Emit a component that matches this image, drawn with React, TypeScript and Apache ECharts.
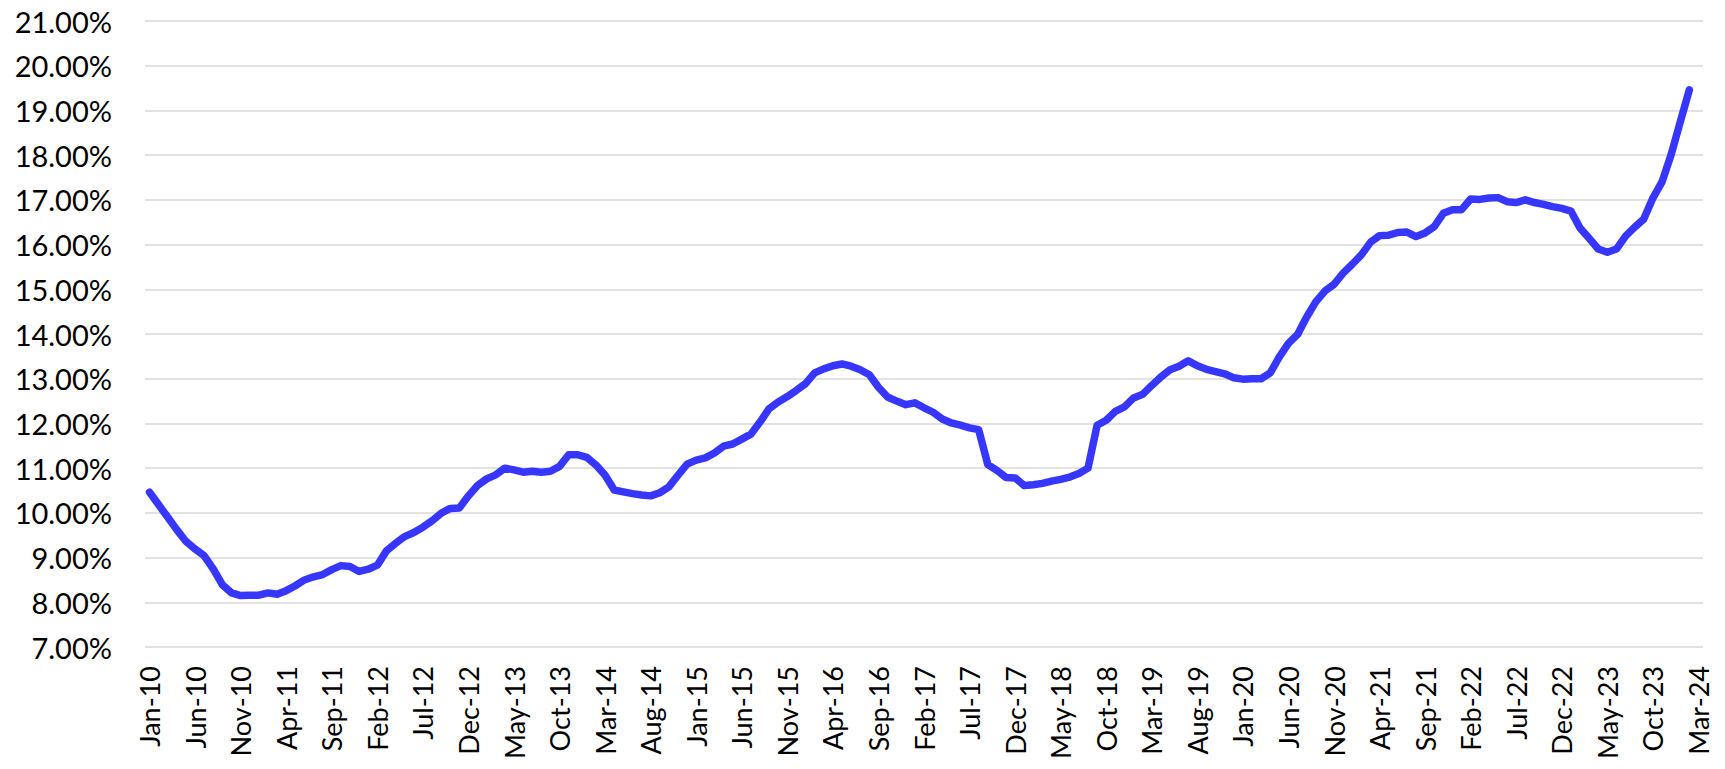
import { useEffect, useRef } from 'react'
import * as echarts from 'echarts'

const MONTHS = ['Jan', 'Feb', 'Mar', 'Apr', 'May', 'Jun', 'Jul', 'Aug', 'Sep', 'Oct', 'Nov', 'Dec']
const FIRST_YEAR = 10
const LAST_YEAR = 24
const LAST_MONTH = 2 // Mar-24 (axis ends here, data ends Feb-24)

const categories: string[] = []
for (let y = FIRST_YEAR; y <= LAST_YEAR; y++) {
  for (let m = 0; m < 12; m++) {
    if (y === LAST_YEAR && m > LAST_MONTH) break
    categories.push(`${MONTHS[m]}-${y}`)
  }
}

// monthly rate, %, Jan-10 .. Feb-24
const rates = [
  10.46, 10.18, 9.90, 9.62, 9.36, 9.19, 9.04, 8.74, 8.39, 8.21, 8.15, 8.16,
  8.16, 8.21, 8.18, 8.26, 8.37, 8.50, 8.57, 8.62, 8.73, 8.82, 8.80, 8.69,
  8.74, 8.83, 9.15, 9.32, 9.47, 9.56, 9.68, 9.82, 9.99, 10.10, 10.11, 10.38,
  10.61, 10.76, 10.85, 11.00, 10.96, 10.91, 10.93, 10.91, 10.93, 11.04, 11.30, 11.30,
  11.24, 11.07, 10.84, 10.51, 10.47, 10.43, 10.40, 10.38, 10.45, 10.58, 10.84, 11.09,
  11.18, 11.23, 11.34, 11.49, 11.54, 11.65, 11.76, 12.03, 12.33, 12.48, 12.60, 12.74,
  12.89, 13.13, 13.22, 13.29, 13.33, 13.28, 13.20, 13.09, 12.81, 12.59, 12.50, 12.42,
  12.46, 12.35, 12.25, 12.10, 12.01, 11.96, 11.90, 11.86, 11.08, 10.95, 10.79, 10.78,
  10.61, 10.63, 10.66, 10.71, 10.75, 10.80, 10.88, 11.00, 11.96, 12.07, 12.27, 12.37,
  12.57, 12.65, 12.85, 13.04, 13.20, 13.28, 13.40, 13.29, 13.21, 13.16, 13.11, 13.02,
  12.99, 13.00, 13.00, 13.13, 13.49, 13.79, 13.99, 14.38, 14.72, 14.96, 15.11, 15.36,
  15.56, 15.77, 16.05, 16.20, 16.21, 16.27, 16.28, 16.18, 16.26, 16.40, 16.70, 16.78,
  16.78, 17.02, 17.01, 17.04, 17.05, 16.96, 16.94, 17.00, 16.94, 16.90, 16.85, 16.81,
  16.75, 16.37, 16.14, 15.90, 15.83, 15.90, 16.19, 16.39, 16.57, 17.04, 17.40, 18.01,
  18.74, 19.46
]

const Y_MIN = 7
const Y_MAX = 21
const Y_STEP = 1

export default function App() {
  const chartRef = useRef<HTMLDivElement>(null)

  useEffect(() => {
    if (!chartRef.current) return

    const chart = echarts.init(chartRef.current, null, { renderer: 'svg' })

    const option = {
      animation: false,
      backgroundColor: '#ffffff',
      grid: {
        left: 145,
        right: 22,
        top: 21,
        bottom: 122,
        containLabel: false
      },
      xAxis: {
        type: 'category',
        data: categories,
        boundaryGap: true,
        axisLine: { show: false },
        axisTick: { show: false },
        axisLabel: {
          interval: 4,
          rotate: 90,
          margin: 19,
          fontSize: 27,
          color: '#000000',
          fontFamily: 'Lato, sans-serif'
        },
        splitLine: { show: false }
      },
      yAxis: {
        type: 'value',
        min: Y_MIN,
        max: Y_MAX,
        interval: Y_STEP,
        axisLine: { show: false },
        axisTick: { show: false },
        axisLabel: {
          margin: 33,
          fontSize: 29,
          color: '#000000',
          fontFamily: 'Lato, sans-serif',
          formatter: (v: number) => `${v.toFixed(2)}%`
        },
        splitLine: {
          lineStyle: {
            color: '#d9d9d9',
            width: 1.5
          }
        }
      },
      series: [
        {
          type: 'line',
          data: rates,
          showSymbol: false,
          symbol: 'none',
          lineStyle: {
            color: '#3636ff',
            width: 7.5,
            cap: 'round',
            join: 'round'
          }
        }
      ]
    }

    chart.setOption(option)

    return () => {
      chart.dispose()
    }
  }, [])

  return (
    <div
      ref={chartRef}
      style={{ position: 'fixed', left: 0, top: 0, width: 1725, height: 769 }}
    />
  )
}
